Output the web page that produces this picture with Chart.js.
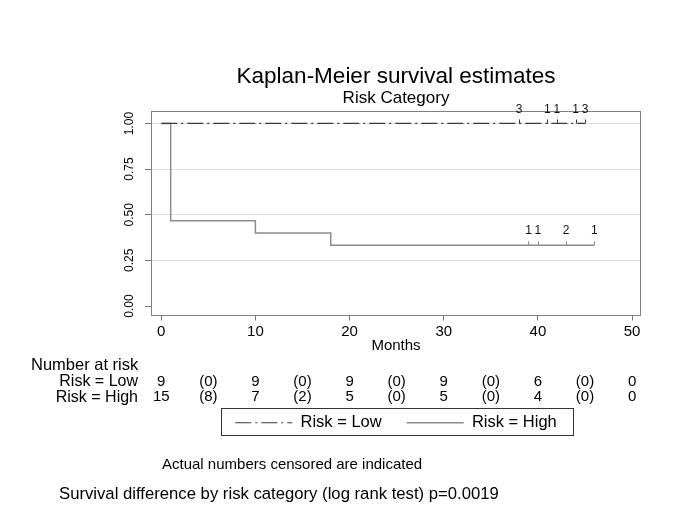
<!DOCTYPE html>
<html><head><meta charset="utf-8">
<style>html,body{margin:0;padding:0;background:#fff;} #wrap{width:685px;height:513px;}</style>
<script src="https://cdn.jsdelivr.net/npm/chart.js@4.4.1/dist/chart.umd.min.js"></script>
</head><body>
<div id="wrap"><canvas id="c" width="685" height="513"></canvas></div>
<script>
// ---- data ----
const xTicks = [0, 10, 20, 30, 40, 50];
const yTicks = [0, 0.25, 0.5, 0.75, 1];
const yTickLabels = ['0.00', '0.25', '0.50', '0.75', '1.00'];
const lowTimes = [0, 45];
const lowSurv = [1, 1];
const highTimes = [0, 1, 10, 18, 46];
const highSurv = [1, 0.4667, 0.4, 0.3333, 0.3333];
const lowCensorTimes = [38, 41, 42, 44, 45];
const lowCensorCounts = [3, 1, 1, 1, 3];
const highCensorTimes = [39, 40, 43, 46];
const highCensorCounts = [1, 1, 2, 1];
const riskTimes = [0, 5, 10, 15, 20, 25, 30, 35, 40, 45, 50];
const lowAtRisk = ['9', '(0)', '9', '(0)', '9', '(0)', '9', '(0)', '6', '(0)', '0'];
const highAtRisk = ['15', '(8)', '7', '(2)', '5', '(0)', '5', '(0)', '4', '(0)', '0'];
const riskRowLabels = ['Risk = Low', 'Risk = High'];

const FONT = "'Liberation Sans', Arial, Helvetica, sans-serif";
Chart.defaults.font.family = FONT;
Chart.defaults.color = '#000';

function survAt(times, surv, t) {
  let s = surv[0];
  for (let i = 0; i < times.length; i++) { if (times[i] <= t) s = surv[i]; }
  return s;
}
const pts = (ts, ys) => ts.map((t, i) => ({x: t, y: ys[i]}));

const LOW_COLOR = '#3a3a3a', HIGH_COLOR = '#8c8c8c';

const decor = {
  id: 'decor',
  beforeDatasetsDraw(chart) {
    const {ctx, chartArea: a} = chart;
    ctx.save();
    ctx.strokeStyle = '#808080';
    ctx.lineWidth = 1;
    ctx.strokeRect(Math.round(a.left) + 0.5, Math.round(a.top) + 0.5,
      Math.round(a.right - a.left) - 1, Math.round(a.bottom - a.top) - 1);
    ctx.restore();
  },
  afterDatasetsDraw(chart) {
    const {ctx} = chart;
    ctx.save();
    ctx.font = '12px ' + FONT;
    ctx.textAlign = 'center';
    ctx.textBaseline = 'middle';
    chart.data.datasets.forEach((ds, i) => {
      if (!ds.censorCounts) return;
      const meta = chart.getDatasetMeta(i);
      ctx.strokeStyle = ds.censorColor;
      ctx.lineWidth = 1;
      meta.data.forEach((pt, j) => {
        const x = Math.round(pt.x) + 0.5;
        ctx.beginPath();
        ctx.moveTo(x, pt.y);
        ctx.lineTo(x, pt.y - 4);
        ctx.stroke();
        ctx.fillStyle = '#111';
        ctx.fillText(String(ds.censorCounts[j]), pt.x, pt.y - 14);
      });
    });
    ctx.restore();
  },
  afterDraw(chart) {
    const {ctx} = chart;
    ctx.save();
    ctx.fillStyle = '#000';
    ctx.textBaseline = 'middle';
    // number at risk header and row labels
    const sl = chart.scales.xLow;
    const yLow = sl.top + sl.options.ticks.padding + 7.5;
    const yHigh = yLow + 16;
    ctx.font = '16.5px ' + FONT;
    ctx.textAlign = 'left';
    ctx.fillText('Number at risk', 31, yLow - 16);
    ctx.font = '16px ' + FONT;
    ctx.textAlign = 'right';
    ctx.fillText(riskRowLabels[0], 138, yLow);
    ctx.fillText(riskRowLabels[1], 138, yHigh);
    // legend border
    const lg = chart.legend;
    if (lg && lg.legendHitBoxes && lg.legendHitBoxes.length) {
      const hb = lg.legendHitBoxes;
      const last = hb[hb.length - 1];
      const l = Math.round(hb[0].left - 14) + 0.5;
      const r = Math.round(last.left + last.width + 16) + 0.5;
      const t = Math.round(hb[0].top - 7) + 0.5;
      const b = Math.round(hb[0].top + hb[0].height + 4) + 0.5;
      ctx.strokeStyle = '#333';
      ctx.lineWidth = 1;
      ctx.strokeRect(l, t, r - l, b - t);
    }
    // notes
    ctx.textAlign = 'left';
    ctx.font = '15px ' + FONT;
    ctx.fillText('Actual numbers censored are indicated', 162, 465);
    ctx.font = '16.7px ' + FONT;
    ctx.fillText('Survival difference by risk category (log rank test) p=0.0019', 59, 494.5);
    ctx.restore();
  }
};

const XMIN = -1.09, XMAX = 50.95;
const YMIN = -0.052, YMAX = 1.071;

new Chart(document.getElementById('c'), {
  type: 'scatter',
  data: {
    datasets: [
      {label: 'Risk = Low', data: pts(lowTimes, lowSurv), showLine: true, stepped: true,
       borderColor: LOW_COLOR, backgroundColor: LOW_COLOR, borderWidth: 1.2, borderDash: [16, 4, 2, 4],
       pointRadius: 0, fill: false},
      {label: 'Risk = High', data: pts(highTimes, highSurv), showLine: true, stepped: true,
       borderColor: HIGH_COLOR, backgroundColor: HIGH_COLOR, borderWidth: 1.5,
       pointRadius: 0, fill: false},
      {label: 'censLow', data: lowCensorTimes.map(t => ({x: t, y: survAt(lowTimes, lowSurv, t)})),
       showLine: false, pointRadius: 0, censorCounts: lowCensorCounts, censorColor: LOW_COLOR},
      {label: 'censHigh', data: highCensorTimes.map(t => ({x: t, y: survAt(highTimes, highSurv, t)})),
       showLine: false, pointRadius: 0, censorCounts: highCensorCounts, censorColor: HIGH_COLOR}
    ]
  },
  options: {
    responsive: false,
    animation: false,
    events: [],
    devicePixelRatio: 1,
    layout: {padding: {left: 0, right: 44, top: 66, bottom: 72}},
    scales: {
      x: {
        type: 'linear', position: 'bottom', min: XMIN, max: XMAX, weight: 0,
        afterBuildTicks: s => { s.ticks = xTicks.map(v => ({value: v})); },
        afterFit: s => { s.height = 39; },
        grid: {drawOnChartArea: false, drawTicks: true, tickLength: 5, tickColor: '#777'},
        border: {display: false},
        ticks: {font: {size: 15}, padding: 2, maxRotation: 0, autoSkip: false, color: '#000'},
        title: {display: true, text: 'Months', font: {size: 15}, padding: {top: 0, bottom: 0}, color: '#000'}
      },
      xLow: {
        type: 'linear', axis: 'x', position: 'bottom', min: XMIN, max: XMAX, weight: 1,
        afterBuildTicks: s => { s.ticks = riskTimes.map(v => ({value: v})); },
        afterFit: s => { s.height = 35; },
        grid: {display: false, drawTicks: false},
        border: {display: false},
        ticks: {font: {size: 15, lineHeight: 1}, padding: 19.5, maxRotation: 0, autoSkip: false, color: '#000',
                callback: (v) => lowAtRisk[riskTimes.indexOf(v)]}
      },
      xHigh: {
        type: 'linear', axis: 'x', position: {y: -0.458}, min: XMIN, max: XMAX,
        afterBuildTicks: s => { s.ticks = riskTimes.map(v => ({value: v})); },
        grid: {display: false, drawTicks: false},
        border: {display: false},
        ticks: {font: {size: 15, lineHeight: 1}, padding: 0, maxRotation: 0, autoSkip: false, color: '#000',
                callback: (v) => highAtRisk[riskTimes.indexOf(v)]}
      },
      y: {
        type: 'linear', position: 'left', min: YMIN, max: YMAX,
        afterBuildTicks: s => { s.ticks = yTicks.map(v => ({value: v})); },
        afterFit: s => { s.width = 151; },
        grid: {color: c => (c.tick && c.tick.value === 0) ? 'rgba(0,0,0,0)' : '#dedede',
               tickColor: '#777', tickLength: 6, drawTicks: true},
        border: {display: false},
        ticks: {minRotation: 90, maxRotation: 90, crossAlign: 'center', padding: 4, autoSkip: false,
                font: {size: 12}, color: '#000',
                callback: v => yTickLabels[yTicks.indexOf(v)]}
      }
    },
    plugins: {
      title: {display: true, text: 'Kaplan-Meier survival estimates', fullSize: false,
              font: {size: 22.5, weight: 'normal', lineHeight: 1}, color: '#000', padding: {top: 0, bottom: 0}},
      subtitle: {display: true, text: 'Risk Category', fullSize: false,
              font: {size: 17, weight: 'normal', lineHeight: 1}, color: '#000', padding: {top: 1.5, bottom: 3.5}},
      legend: {
        display: true, position: 'bottom', fullSize: false,
        labels: {
          usePointStyle: true, pointStyle: 'line', pointStyleWidth: 57, padding: 25,
          font: {size: 16.5}, color: '#000',
          generateLabels: chart => [0, 1].map(i => {
            const ds = chart.data.datasets[i];
            return {text: ds.label, fillStyle: 'rgba(0,0,0,0)', strokeStyle: ds.borderColor,
                    lineWidth: ds.borderWidth, lineDash: ds.borderDash || [], pointStyle: 'line',
                    hidden: false, datasetIndex: i, fontColor: '#000'};
          })
        }
      },
      tooltip: {enabled: false}
    }
  },
  plugins: [decor]
});
</script>
</body></html>
